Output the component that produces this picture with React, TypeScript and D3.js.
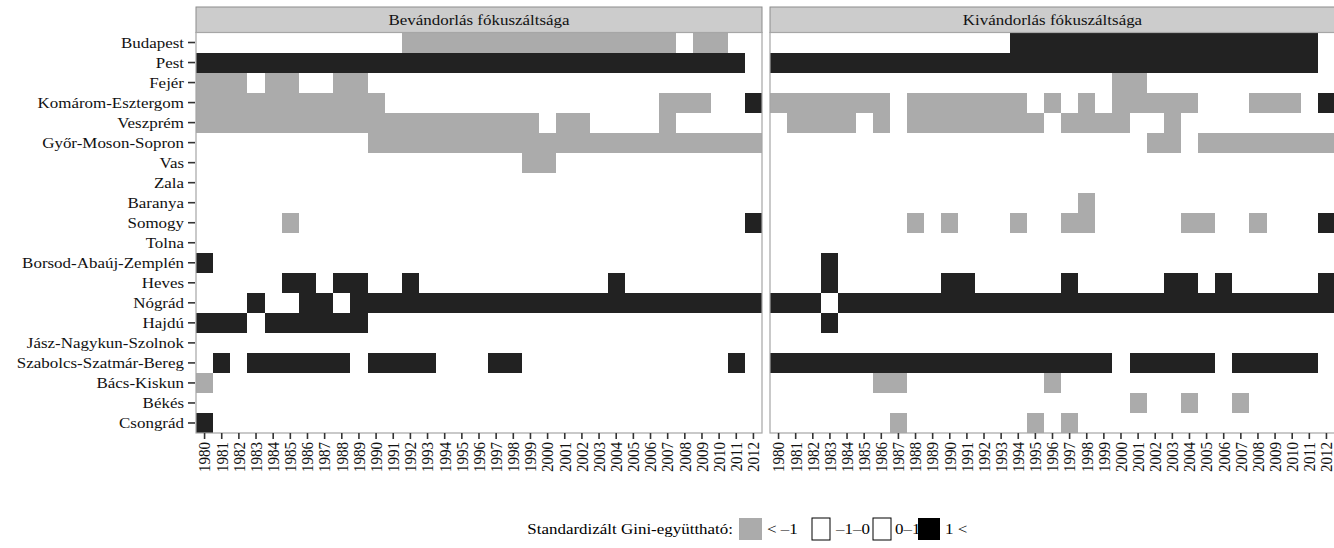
import React from "react";
import * as d3 from "d3";

const counties = [
  "Budapest",
  "Pest",
  "Fejér",
  "Komárom-Esztergom",
  "Veszprém",
  "Győr-Moson-Sopron",
  "Vas",
  "Zala",
  "Baranya",
  "Somogy",
  "Tolna",
  "Borsod-Abaúj-Zemplén",
  "Heves",
  "Nógrád",
  "Hajdú",
  "Jász-Nagykun-Szolnok",
  "Szabolcs-Szatmár-Bereg",
  "Bács-Kiskun",
  "Békés",
  "Csongrád",
];

const years = [
  "1980", "1981", "1982", "1983", "1984", "1985", "1986", "1987", "1988", "1989",
  "1990", "1991", "1992", "1993", "1994", "1995", "1996", "1997", "1998", "1999",
  "2000", "2001", "2002", "2003", "2004", "2005", "2006", "2007", "2008", "2009",
  "2010", "2011", "2012",
];

const panelTitles = ["Bevándorlás fókuszáltsága", "Kivándorlás fókuszáltsága"];

// one char per year, grouped by decade: g = < -1, b = 1 <, . = between -1 and 1
const immigration = [
  ".......... ..gggggggg gggggggg.g g..",
  "bbbbbbbbbb bbbbbbbbbb bbbbbbbbbb bb.",
  "ggg.gg..gg .......... .......... ...",
  "gggggggggg g......... .......ggg ..b",
  "gggggggggg gggggggggg .gg....g.. ...",
  ".......... gggggggggg gggggggggg ggg",
  ".......... .........g g......... ...",
  ".......... .......... .......... ...",
  ".......... .......... .......... ...",
  ".....g.... .......... .......... ..b",
  ".......... .......... .......... ...",
  "b......... .......... .......... ...",
  ".....bb.bb ..b....... ....b..... ...",
  "...b..bb.b bbbbbbbbbb bbbbbbbbbb bbb",
  "bbb.bbbbbb .......... .......... ...",
  ".......... .......... .......... ...",
  ".b.bbbbbb. bbbb...bb. .......... .b.",
  "g......... .......... .......... ...",
  ".......... .......... .......... ...",
  "b......... .......... .......... ...",
];

const emigration = [
  ".......... ....bbbbbb bbbbbbbbbb bb.",
  "bbbbbbbbbb bbbbbbbbbb bbbbbbbbbb bb.",
  ".......... .......... gg........ ...",
  "ggggggg.gg ggggg.g.g. ggggg...gg g.b",
  ".gggg.g.gg gggggg.ggg g..g...... ...",
  ".......... .......... ..gg.ggggg ggg",
  ".......... .......... .......... ...",
  ".......... .......... .......... ...",
  ".......... ........g. .......... ...",
  "........g. g...g..gg. ....gg..g. ..b",
  ".......... .......... .......... ...",
  "...b...... .......... .......... ...",
  "...b...... bb.....b.. ...bb.b... ..b",
  "bbb.bbbbbb bbbbbbbbbb bbbbbbbbbb bbb",
  "...b...... .......... .......... ...",
  ".......... .......... .......... ...",
  "bbbbbbbbbb bbbbbbbbbb .bbbbb.bbb bb.",
  "......gg.. ......g... .......... ...",
  ".......... .......... .g..g..g.. ...",
  ".......g.. .....g.g.. .......... ...",
];

const legendTitle = "Standardizált Gini-együttható:";
const legendLabels = ["< –1", "–1–0", "0–1", "1 <"];

const GRAY = "#ababab";
const BLACK = "#222222";
const FONT = "'Liberation Serif', 'Times New Roman', serif";
const SX = 1.13; // text in the source is a bit wider than tall
const FS = 15;
const INK = "#111111";

const panelX = [
  [196, 762],
  [770, 1335],
];
const stripTop = 7;
const plotTop = 32.5;
const plotBottom = 433;

function Panel({ title, rows, x0, x1, showY }: any) {
  const x = d3.scaleBand<string>().domain(years).range([x0, x1]);
  const y = d3.scaleBand<string>().domain(counties).range([plotTop, plotBottom]);
  const cells: any[] = [];
  rows.forEach((row: string, r: number) => {
    const codes = row.replace(/ /g, "").split("");
    codes.forEach((c, i) => {
      if (c === ".") return;
      cells.push({ county: counties[r], year: years[i], c });
    });
  });
  return (
    <g>
      <rect x={x0} y={stripTop} width={x1 - x0} height={plotTop - stripTop} fill="#cccccc" stroke="#8c8c8c" strokeWidth={1} />
      <text
        transform={`translate(${(x0 + x1) / 2},${(stripTop + plotTop) / 2 + 0.5}) scale(${SX},1)`}
        textAnchor="middle"
        dominantBaseline="central"
        fontFamily={FONT}
        fontSize={FS}
        fill={INK}
      >
        {title}
      </text>
      <rect x={x0} y={plotTop} width={x1 - x0} height={plotBottom - plotTop} fill="#ffffff" />
      {cells.map((d, i) => (
        <rect
          key={i}
          x={x(d.year)}
          y={y(d.county)}
          width={x.bandwidth()}
          height={y.bandwidth()}
          fill={d.c === "g" ? GRAY : BLACK}
          shapeRendering="crispEdges"
        />
      ))}
      <rect x={x0} y={plotTop} width={x1 - x0} height={plotBottom - plotTop} fill="none" stroke="#a6a6a6" strokeWidth={1.2} />
      {years.map((yr) => {
        const cx = (x(yr) as number) + x.bandwidth() / 2;
        return (
          <g key={yr}>
            <line x1={cx} x2={cx} y1={plotBottom} y2={plotBottom + 6} stroke="#333" strokeWidth={1.6} />
            <text
              transform={`translate(${cx},${plotBottom + 9}) scale(${SX},1) rotate(-90)`}
              textAnchor="end"
              dominantBaseline="central"
              fontFamily={FONT}
              fontSize={FS}
              fill={INK}
            >
              {yr}
            </text>
          </g>
        );
      })}
      {showY &&
        counties.map((c) => {
          const cy = (y(c) as number) + y.bandwidth() / 2;
          return (
            <g key={c}>
              <line x1={x0 - 8} x2={x0 - 1} y1={cy} y2={cy} stroke="#333" strokeWidth={1.6} />
              <text
                transform={`translate(${x0 - 12},${cy}) scale(${SX},1)`}
                textAnchor="end"
                dominantBaseline="central"
                fontFamily={FONT}
                fontSize={FS}
                fill={INK}
              >
                {c}
              </text>
            </g>
          );
        })}
    </g>
  );
}

function Legend() {
  const ly = 529;
  const box = [
    { x: 739, w: 23, fill: GRAY, stroke: "none" },
    { x: 812, w: 18, fill: "#fff", stroke: "#000" },
    { x: 873, w: 18, fill: "#fff", stroke: "#000" },
    { x: 918, w: 22, fill: "#000", stroke: "none" },
  ];
  const labelX = [767, 836, 895, 945];
  return (
    <g>
      <text
        transform={`translate(733,${ly}) scale(${SX},1)`}
        textAnchor="end"
        dominantBaseline="central"
        fontFamily={FONT}
        fontSize={FS}
        fill="#000"
      >
        {legendTitle}
      </text>
      {box.map((b, i) => (
        <rect key={i} x={b.x} y={ly - 11} width={b.w} height={22} fill={b.fill} stroke={b.stroke} strokeWidth={1} />
      ))}
      {legendLabels.map((l, i) => (
        <text
          key={l}
          transform={`translate(${labelX[i]},${ly}) scale(${SX},1)`}
          dominantBaseline="central"
          fontFamily={FONT}
          fontSize={FS}
          fill="#000"
        >
          {l}
        </text>
      ))}
    </g>
  );
}

export default function App() {
  return (
    <svg
      width={1334}
      height={548}
      style={{ position: "absolute", left: 0, top: 0, background: "#fff" }}
    >
      <rect width={1334} height={548} fill="#fff" />
      <Panel title={panelTitles[0]} rows={immigration} x0={panelX[0][0]} x1={panelX[0][1]} showY />
      <Panel title={panelTitles[1]} rows={emigration} x0={panelX[1][0]} x1={panelX[1][1]} showY={false} />
      <Legend />
    </svg>
  );
}
